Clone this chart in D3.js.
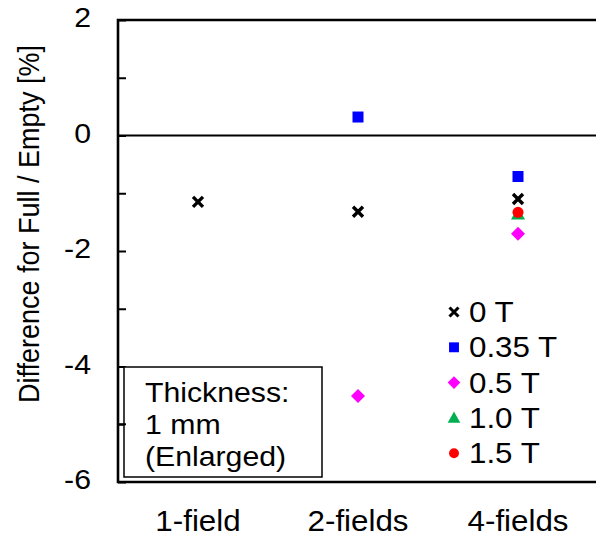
<!DOCTYPE html>
<html>
<head>
<meta charset="utf-8">
<script src="https://cdn.jsdelivr.net/npm/d3@7"></script>
<style>
  body { margin: 0; background: #fff; }
  text { font-family: "Liberation Sans", Arial, sans-serif; fill: #000; }
</style>
</head>
<body>
<div id="chart"></div>
<script>
// categories and values
const categories = ["1-field", "2-fields", "4-fields"];
const seriesNames = ["0 T", "0.35 T", "0.5 T", "1.0 T", "1.5 T"];
const values0T = [-1.15, -1.32, -1.10];
const values035T = [null, 0.32, -0.71];
const values05T = [null, -4.51, -1.70];
const values10T = [null, null, -1.36];
const values15T = [null, null, -1.33];
const yTicks = [-6, -5, -4, -3, -2, -1, 0, 1, 2];
const noteLines = ["Thickness:", "1 mm", "(Enlarged)"];

const W = 596, H = 542;
const plot = { left: 118, top: 20, right: 598, bottom: 482 };
const stretch = 1.08; // the text in the picture is a little wide

const svg = d3.select("#chart").append("svg")
  .attr("width", W)
  .attr("height", H);

const x = d3.scalePoint()
  .domain(categories)
  .range([plot.left, plot.right])
  .padding(0.5);

const y = d3.scaleLinear()
  .domain([-6, 2])
  .range([plot.bottom, plot.top]);

// helper: horizontal text stretched a bit
function wideText(g, tx, ty, str, size, anchor) {
  return g.append("text")
    .attr("transform", "translate(" + tx + "," + ty + ") scale(" + stretch + ",1)")
    .attr("text-anchor", anchor || "start")
    .style("font-size", size + "px")
    .text(str);
}

// zero line
svg.append("line")
  .attr("x1", plot.left).attr("x2", plot.right)
  .attr("y1", y(0)).attr("y2", y(0))
  .attr("stroke", "#000").attr("stroke-width", 2.2);

// y axis, ticks pointing inward, labels drawn by hand below
const yAxis = svg.append("g")
  .attr("transform", "translate(" + plot.left + ",0)")
  .call(d3.axisLeft(y)
    .tickValues(yTicks)
    .tickSizeInner(-8)
    .tickSizeOuter(0)
    .tickFormat(""));
yAxis.select(".domain").remove();
yAxis.selectAll(".tick line").attr("stroke", "#000").attr("stroke-width", 2);

const yLabels = svg.append("g");
yTicks.filter(d => d % 2 === 0).forEach(d => {
  wideText(yLabels, 91, y(d) + 7, String(d), 28, "end");
});

// frame (right side runs off the picture)
svg.append("path")
  .attr("d", "M" + plot.right + "," + plot.top + "H" + plot.left + "V" + plot.bottom + "H" + plot.right)
  .attr("fill", "none")
  .attr("stroke", "#000")
  .attr("stroke-width", 2.6);

// x labels
const xLabels = svg.append("g");
categories.forEach(c => wideText(xLabels, x(c), 531, c, 29, "middle"));

// y title
svg.append("text")
  .attr("transform", "translate(39,224) rotate(-90) scale(1," + stretch + ")")
  .attr("text-anchor", "middle")
  .style("font-size", "27px")
  .text("Difference for Full / Empty [%]");

// note box
svg.append("rect")
  .attr("x", 124).attr("y", 367)
  .attr("width", 198).attr("height", 110)
  .attr("fill", "#fff")
  .attr("stroke", "#000")
  .attr("stroke-width", 1.5);
svg.append("line")
  .attr("x1", plot.left).attr("x2", plot.left + 8)
  .attr("y1", y(-5)).attr("y2", y(-5))
  .attr("stroke", "#000").attr("stroke-width", 2);
const note = svg.append("g");
noteLines.forEach((t, i) => wideText(note, 145, 402 + i * 32, t, 28));

// marker styles
const styles = [
  { color: "#000000", shape: "cross" },
  { color: "#0000ff", shape: "square" },
  { color: "#ff00ff", shape: "diamond" },
  { color: "#00b050", shape: "triangle" },
  { color: "#ff0000", shape: "circle" }
];

function drawMarker(g, style) {
  if (style.shape === "cross") {
    g.append("path")
      .attr("d", "M-5,-5L5,5M-5,5L5,-5")
      .attr("stroke", style.color)
      .attr("stroke-width", 3.4)
      .attr("fill", "none");
  } else if (style.shape === "square") {
    g.append("rect")
      .attr("x", -5.5).attr("y", -5.5)
      .attr("width", 11).attr("height", 11)
      .attr("fill", style.color);
  } else if (style.shape === "diamond") {
    g.append("path")
      .attr("d", "M0,-7L7,0L0,7L-7,0Z")
      .attr("fill", style.color);
  } else if (style.shape === "triangle") {
    g.append("path")
      .attr("d", "M0,-7L7,5.5L-7,5.5Z")
      .attr("fill", style.color);
  } else {
    g.append("circle")
      .attr("r", 5.5)
      .attr("fill", style.color);
  }
}

const allSeries = [values0T, values035T, values05T, values10T, values15T];
allSeries.forEach((vals, s) => {
  const pts = categories
    .map((c, i) => ({ c: c, v: vals[i] }))
    .filter(d => d.v !== null);
  svg.append("g").selectAll("g")
    .data(pts)
    .enter()
    .append("g")
    .attr("transform", d => "translate(" + x(d.c) + "," + y(d.v) + ")")
    .each(function() { drawMarker(d3.select(this), styles[s]); });
});

// legend
const legend = svg.append("g");
seriesNames.forEach((name, i) => {
  const row = legend.append("g")
    .attr("transform", "translate(454," + (312 + i * 35.3) + ")");
  drawMarker(row.append("g").attr("transform", "scale(0.9)"), styles[i]);
  wideText(row, 15, 10, name, 29);
});
</script>
</body>
</html>
